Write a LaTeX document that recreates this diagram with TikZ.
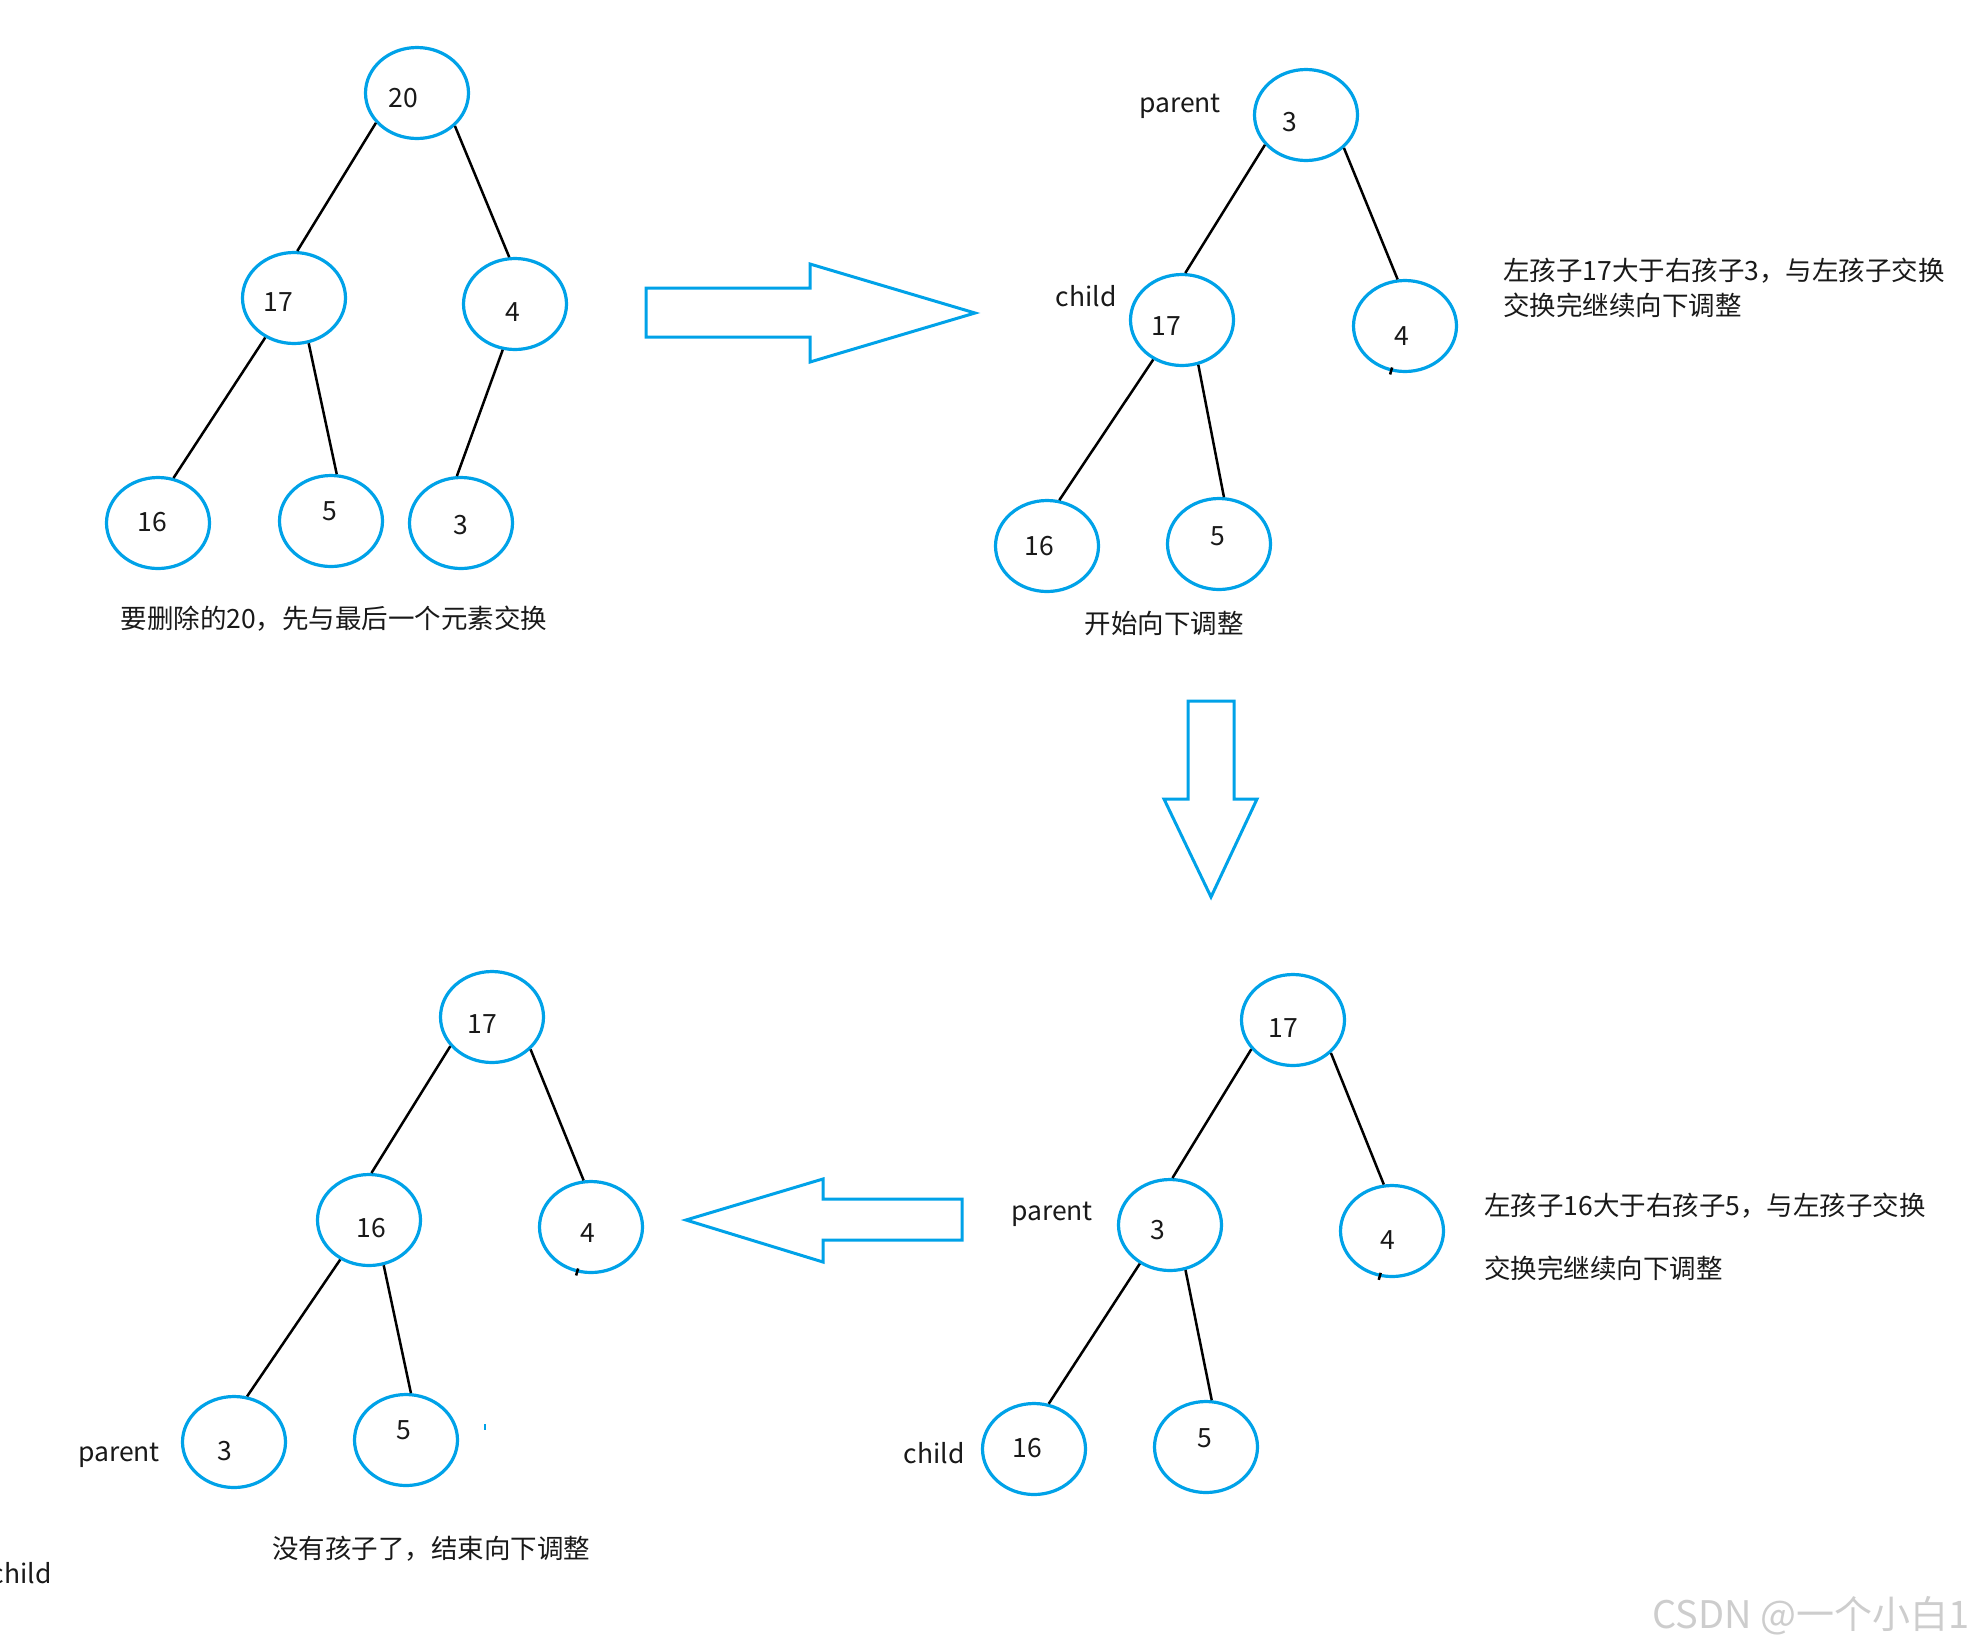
\documentclass[tikz,border=0pt]{standalone}
\usepackage{fontspec}
\setmainfont{Noto Sans CJK SC}
\usetikzlibrary{shapes.geometric}
\definecolor{tblue}{RGB}{0,162,232}
\definecolor{wmgray}{RGB}{205,205,205}
\definecolor{ink}{RGB}{25,25,25}
\begin{document}
\begin{tikzpicture}[x=1pt,y=-1pt,
  hnode/.style={ellipse, draw=tblue, line width=3.2, minimum width=103, minimum height=91, inner sep=0},
  numlab/.style={font=\fontsize{26.5}{30}\selectfont, inner sep=0, text=ink, yshift=-1pt},
  edge/.style={line width=2.5, black},
  bigarrow/.style={draw=tblue, line width=3, line join=miter},
  txt/.style={font=\fontsize{26.5}{30}\selectfont, inner sep=0, text=ink},
  wmark/.style={font=\fontsize{38}{42}\selectfont, inner sep=0, text=wmgray},
  ]
\useasboundingbox (0,0) rectangle (1975,1647);

% ---------------- Tree 1 ----------------
\node[hnode, label={[numlab,shift={(-14,4)}]center:20}] (A20) at (417,93) {};
\node[hnode, label={[numlab,shift={(-16,3)}]center:17}] (A17) at (294,298) {};
\node[hnode, label={[numlab,shift={(-2,7)}]center:4}]   (A4)  at (515,304) {};
\node[hnode, label={[numlab,shift={(-6,-2)}]center:16}] (A16) at (158,523) {};
\node[hnode, label={[numlab,shift={(-1,-11)}]center:5}] (A5)  at (331,521) {};
\node[hnode, label={[numlab,shift={(0,1)}]center:3}]    (A3)  at (461,523) {};
\draw[edge] (A20.216) -- (A17.86);
\draw[edge] (A20.319) -- (A4.97);
\draw[edge] (A17.234) -- (A16.71);
\draw[edge] (A17.288) -- (A5.83);
\draw[edge] (A4.255) -- (A3.95);
\node[txt] (cap1) at (334,619) {要删除的20，先与最后一个元素交换};

% ---------------- Arrow right ----------------
\draw[bigarrow] (646,288) -- (810,288) -- (810,264) -- (975,313) -- (810,362) -- (810,337) -- (646,337) -- cycle;

% ---------------- Tree 2 ----------------
\node[hnode, label={[numlab,shift={(-16,6)}]center:3}]  (B3)  at (1306,115) {};
\node[hnode, label={[numlab,shift={(-16,5)}]center:17}] (B17) at (1182,320) {};
\node[hnode, label={[numlab,shift={(-3,9)}]center:4}]   (B4)  at (1405,326) {};
\node[hnode, label={[numlab,shift={(-8,-1)}]center:16}] (B16) at (1047,546) {};
\node[hnode, label={[numlab,shift={(-1,-9)}]center:5}]  (B5)  at (1219,544) {};
\draw[edge] (B3.216) -- (B17.86);
\draw[edge] (B3.319) -- (B4.99);
\draw[edge] (B17.234) -- (B16.75);
\draw[edge] (B17.290) -- (B5.84);
\draw[edge] ([shift={(1,-4)}]B4.253) -- ([shift={(-1,3)}]B4.253);
\node[txt] (B3lab) at (1180,106) {parent};
\node[txt] (B17lab) at (1086,296) {child};
\node[txt] (cap2) at (1164,623) {开始向下调整};
\node[txt, anchor=west] (note1a) at (1503,271) {左孩子17大于右孩子3，与左孩子交换};
\node[txt, anchor=west] (note1b) at (1503,305) {交换完继续向下调整};

% ---------------- Arrow down ----------------
\draw[bigarrow] (1188,701) -- (1234,701) -- (1234,799) -- (1257,799) -- (1211,897) -- (1164,799) -- (1188,799) -- cycle;

% ---------------- Tree 4 (bottom right) ----------------
\node[hnode, label={[numlab,shift={(-10,7)}]center:17}] (D17) at (1293,1020) {};
\node[hnode, label={[numlab,shift={(-12,4)}]center:3}]  (D3)  at (1170,1225) {};
\node[hnode, label={[numlab,shift={(-4,8)}]center:4}]   (D4)  at (1392,1231) {};
\node[hnode, label={[numlab,shift={(-7,-2)}]center:16}] (D16) at (1034,1449) {};
\node[hnode, label={[numlab,shift={(-1,-10)}]center:5}] (D5)  at (1206,1447) {};
\draw[edge] (D17.215) -- (D3.87);
\draw[edge] (D17.319) -- (D4.100);
\draw[edge] (D3.232) -- (D16.72);
\draw[edge] (D3.289) -- (D5.83);
\draw[edge] ([shift={(1,-4)}]D4.255) -- ([shift={(-1,3)}]D4.255);
\node[txt] (D3lab) at (1052,1214) {parent};
\node[txt] (D16lab) at (934,1453) {child};
\node[txt, anchor=west] (note2a) at (1484,1206) {左孩子16大于右孩子5，与左孩子交换};
\node[txt, anchor=west] (note2b) at (1484,1268) {交换完继续向下调整};

% ---------------- Arrow left ----------------
\draw[bigarrow] (962,1199) -- (823,1199) -- (823,1179) -- (686,1220) -- (823,1262) -- (823,1240) -- (962,1240) -- cycle;

% ---------------- Tree 3 (bottom left) ----------------
\node[hnode, label={[numlab,shift={(-10,6)}]center:17}] (C17) at (492,1017) {};
\node[hnode, label={[numlab,shift={(2,7)}]center:16}]   (C16) at (369,1220) {};
\node[hnode, label={[numlab,shift={(-3,5)}]center:4}]   (C4)  at (591,1227) {};
\node[hnode, label={[numlab,shift={(-9,8)}]center:3}]   (C3)  at (234,1442) {};
\node[hnode, label={[numlab,shift={(-2,-11)}]center:5}] (C5)  at (406,1440) {};
\draw[edge] (C17.215) -- (C16.87);
\draw[edge] (C17.320) -- (C4.99);
\draw[edge] (C16.234) -- (C3.74);
\draw[edge] (C16.288) -- (C5.84);
\draw[edge] ([shift={(1,-4)}]C4.253) -- ([shift={(-1,3)}]C4.253);
\draw[tblue, line width=1.5] (485,1424) -- (485,1430);
\node[txt] (C3lab) at (119,1455) {parent};
\node[txt, anchor=east] (Cchild) at (52,1573) {child};
\node[txt] (cap3) at (431,1549) {没有孩子了，结束向下调整};

% ---------------- Watermark ----------------
\node[wmark, anchor=west] (wm) at (1652,1616) {CSDN @一个小白1};
\end{tikzpicture}
\end{document}
